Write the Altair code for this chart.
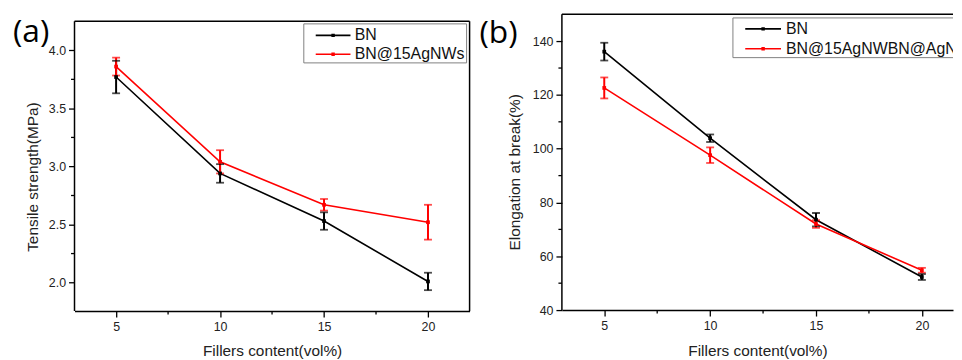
import altair as alt
import pandas as pd

# ---------------- data ----------------
x_vals = [5, 10, 15, 20]
x_minor = [7.5, 12.5, 17.5]

tags = ["(a)", "(b)"]

series_a = ["BN", "BN@15AgNWs"]
ts_bn = [3.77, 2.94, 2.53, 2.01]
ts_bn_err = [0.14, 0.08, 0.075, 0.075]
ts_ag = [3.86, 3.04, 2.67, 2.52]
ts_ag_err = [0.077, 0.10, 0.05, 0.15]
y_major_a = [2.0, 2.5, 3.0, 3.5, 4.0]
y_minor_a = [2.25, 2.75, 3.25, 3.75]

series_b = ["BN", "BN@15AgNWBN@AgNWs"]
el_bn = [136.1, 103.9, 73.6, 52.3]
el_bn_err = [3.3, 1.4, 2.5, 1.1]
el_ag = [122.6, 97.6, 72.0, 54.8]
el_ag_err = [3.9, 2.9, 1.4, 0.9]
y_major_b = [40, 60, 80, 100, 120, 140]
y_minor_b = [50, 70, 90, 110, 130]

colors = ["#000000", "#ff0000"]
FONT = "Liberation Sans"
W_A, H_A, TOP_A = 398, 299, 7     # left panel: frame starts 7px below the shared top
W_B, H_B = 394, 298


def frame(series, vals_list, errs_list):
    rows = []
    for s, vals, errs in zip(series, vals_list, errs_list):
        for x, v, e in zip(x_vals, vals, errs):
            rows.append({"x": x, "v": v, "lo": v - e, "hi": v + e, "series": s})
    return pd.DataFrame(rows)


def legend_layers(series, bx, bx2, by, by2, rows_y, lx, lx2, tx):
    one = pd.DataFrame({"k": [0]})
    out = [alt.Chart(one).mark_rect(fill="white", stroke="#808080", strokeWidth=1, clip=True).encode(
        x=alt.value(bx), x2=alt.value(bx2), y=alt.value(by), y2=alt.value(by2))]
    for i, s in enumerate(series):
        yy = rows_y[i]
        out.append(alt.Chart(one).mark_rule(color=colors[i], strokeWidth=1.6, clip=True).encode(
            x=alt.value(lx), x2=alt.value(lx2), y=alt.value(yy)))
        out.append(alt.Chart(one).mark_point(shape="square", filled=True, size=12, opacity=1,
                                             color=colors[i], clip=True).encode(
            x=alt.value((lx + lx2) / 2), y=alt.value(yy)))
        out.append(alt.Chart(one).mark_text(text=s, font=FONT, fontSize=16, align="left",
                                            baseline="middle", color="#111111", clip=True).encode(
            x=alt.value(tx), y=alt.value(yy)))
    return out


def frame_rule(x, x2, y, y2):
    return alt.Chart(pd.DataFrame({"k": [0]})).mark_rule(
        color="#000000", strokeWidth=1.5).encode(
        x=alt.value(x), x2=alt.value(x2), y=alt.value(y), y2=alt.value(y2))


def panel(df, series, xdom, ydom, ymajor, yminor, yfmt, ytitle, ytitle_x, ytitle_y,
          xtitle_y, w, h, top, leg, tag, tag_x, tag_y, full_frame):
    xscale = alt.Scale(domain=xdom, nice=False, zero=False)
    yscale = alt.Scale(domain=ydom, nice=False, zero=False)
    xaxis = alt.Axis(values=x_vals, tickSize=6, labelPadding=4,
                     title="Fillers content(vol%)", titleY=xtitle_y,
                     titleBaseline="alphabetic", domain=True,
                     domainColor="#000000", domainWidth=1.5)
    yaxis = alt.Axis(values=ymajor, format=yfmt, tickSize=6, labelPadding=3,
                     title=ytitle, titleX=ytitle_x, titleY=ytitle_y, titleAngle=270,
                     titleAlign="center", titleBaseline="alphabetic", domain=False)
    cscale = alt.Scale(domain=series, range=colors)
    col = alt.Color("series:N", scale=cscale, legend=None)
    X = lambda f: alt.X(f, scale=xscale, axis=xaxis)
    Y = lambda f: alt.Y(f, scale=yscale, axis=yaxis)
    base = alt.Chart(df)
    line = base.mark_line(strokeWidth=1.6).encode(x=X("x:Q"), y=Y("v:Q"), color=col)
    pts = base.mark_point(shape="square", filled=True, size=14, opacity=1).encode(
        x=X("x:Q"), y=Y("v:Q"), color=col)
    bars = base.mark_rule(strokeWidth=2).encode(x=X("x:Q"), y=Y("lo:Q"), y2="hi:Q", color=col)
    cap_lo = base.mark_tick(orient="horizontal", size=8, thickness=1.8).encode(
        x=X("x:Q"), y=Y("lo:Q"), color=col)
    cap_hi = base.mark_tick(orient="horizontal", size=8, thickness=1.8).encode(
        x=X("x:Q"), y=Y("hi:Q"), color=col)
    ymin = alt.Chart(pd.DataFrame({"m": yminor})).mark_rule(color="#000000", strokeWidth=1.3).encode(
        y=Y("m:Q"), x=alt.value(-3.5), x2=alt.value(0))
    xmin = alt.Chart(pd.DataFrame({"m": x_minor})).mark_rule(color="#000000", strokeWidth=1.3).encode(
        x=X("m:Q"), y=alt.value(h), y2=alt.value(h + 3.5))
    tag_text = alt.Chart(pd.DataFrame({"t": [tag]})).mark_text(
        font="Open Sans", fontSize=32, align="left", baseline="alphabetic", color="#000000"
    ).encode(text="t:N", x=alt.value(tag_x), y=alt.value(tag_y))
    layers = [line, bars, cap_lo, cap_hi, pts, ymin, xmin,
              frame_rule(0, 0, top, h), frame_rule(0, w, top, top)]
    if full_frame:
        layers.append(frame_rule(w, w, top, h))
    layers += legend_layers(series, *leg)
    layers.append(tag_text)
    return alt.layer(*layers).properties(
        width=w, height=h, view=alt.ViewBackground(strokeOpacity=0))


df_a = frame(series_a, [ts_bn, ts_ag], [ts_bn_err, ts_ag_err])
df_b = frame(series_b, [el_bn, el_ag], [el_bn_err, el_ag_err])

left = panel(
    df_a, series_a, [3, 22], [1.755, 4.3105], y_major_a, y_minor_a, ".1f",
    "Tensile strength(MPa)", -37, 163.5, 45, W_A, H_A, TOP_A,
    (231, 395, 9.7, 49, [21.3, 40.3], 243, 278, 282.3),
    tags[0], -62, 28, True,
)
right = panel(
    df_b, series_b, [3, 21.47], [40, 150], y_major_b, y_minor_b, "d",
    "Elongation at break(%)", -43, 158.7, 46, W_B, H_B, 0,
    (172.3, 600, 3.7, 43.7, [14.7, 34.7], 184.7, 220.7, 225.7),
    tags[1], -83, 29, False,
)

chart = alt.hconcat(left, right, spacing=93, bounds="flush").resolve_scale(
    color="independent"
).properties(
    padding={"left": 5, "top": 4, "right": 0, "bottom": 0}
).configure_axis(
    grid=False,
    labelFont=FONT, labelFontSize=12.5, labelColor="#222222",
    titleFont=FONT, titleFontSize=15.5, titleFontWeight="normal", titleColor="#222222",
    tickColor="#000000", tickWidth=1.3,
)

chart.save("out.html", embed_options={"renderer": "svg", "actions": False})
